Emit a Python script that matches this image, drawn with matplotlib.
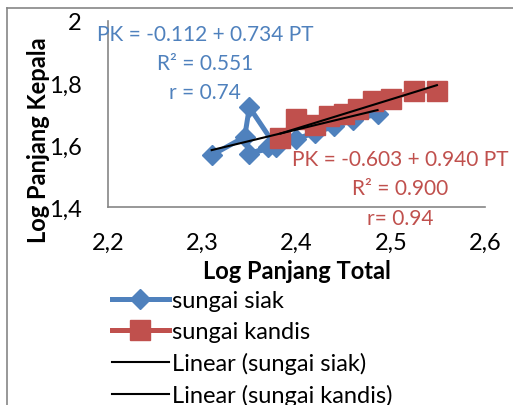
import matplotlib
matplotlib.use("Agg")
import matplotlib.pyplot as plt
from matplotlib.lines import Line2D
import numpy as np

plt.rcParams['font.family'] = ['Lato', 'DejaVu Sans']

# Log total length (PT) and log head length (PK) per river
siak_pt = [2.31, 2.345, 2.35, 2.378, 2.35, 2.37, 2.40, 2.42, 2.44, 2.46, 2.486]
siak_pk = [1.567, 1.626, 1.722, 1.595, 1.572, 1.592, 1.62, 1.64, 1.66, 1.68, 1.70]
kandis_pt = [2.383, 2.40, 2.42, 2.435, 2.45, 2.465, 2.481, 2.50, 2.525, 2.549]
kandis_pk = [1.622, 1.685, 1.665, 1.695, 1.70, 1.716, 1.742, 1.75, 1.774, 1.775]

# Fitted regressions: PK = a + b * PT
siak_fit = (-0.112, 0.734)
kandis_fit = (-0.603, 0.940)
siak_stats = ["PK = -0.112 + 0.734 PT", "R\u00b2 = 0.551", "r = 0.74"]
kandis_stats = ["PK = -0.603 + 0.940 PT", "R\u00b2 = 0.900", "r= 0.94"]

x_ticks = [2.2, 2.3, 2.4, 2.5, 2.6]
x_labels = ["2,2", "2,3", "2,4", "2,5", "2,6"]
y_ticks = [1.4, 1.6, 1.8, 2.0]
y_labels = ["1,4", "1,6", "1,8", "2"]

BLUE = "#4F81BD"
RED = "#C0504D"
W, H = 513, 406

fig = plt.figure(figsize=(W / 100, H / 100), dpi=100)
ax = fig.add_axes([108 / W, 1 - 208 / H, (485 - 108) / W, (208 - 22) / H])

ax.plot(siak_pt, siak_pk, color=BLUE, lw=3.6, marker="D", ms=10,
        mfc=BLUE, mec=BLUE, label="sungai siak", zorder=3)
ax.plot(kandis_pt, kandis_pk, color=RED, lw=3.6, marker="s", ms=14,
        mfc=RED, mec=RED, label="sungai kandis", zorder=4)

for pts, (a, b), lab in [(siak_pt, siak_fit, "Linear (sungai siak)"),
                         (kandis_pt, kandis_fit, "Linear (sungai kandis)")]:
    xs = np.array([min(pts), max(pts)])
    ax.plot(xs, a + b * xs, color="black", lw=1.5, label=lab, zorder=5)

ax.set_xlim(2.2, 2.6)
ax.set_ylim(1.4, 2.0)
ax.set_xticks(x_ticks)
ax.set_xticklabels(x_labels)
ax.set_yticks(y_ticks)
ax.set_yticklabels(y_labels)
ax.tick_params(length=0, labelsize=17)
ax.tick_params(axis="x", pad=18)
ax.tick_params(axis="y", pad=19)
for s in ("top", "right"):
    ax.spines[s].set_visible(False)
for s in ("left", "bottom"):
    ax.spines[s].set_color("#868686")
    ax.spines[s].set_linewidth(1.2)

fs = 15
for i, t in enumerate(siak_stats):
    fig.text(205 / W, 1 - (35 + 29 * i) / H, t, color=BLUE, fontsize=fs,
             ha="center", va="center")
for i, t in enumerate(kandis_stats):
    fig.text(400 / W, 1 - (160 + 29.5 * i) / H, t, color=RED, fontsize=fs,
             ha="center", va="center")

fig.text(297 / W, 1 - 272 / H, "Log Panjang Total", fontsize=17,
         fontweight="bold", ha="center", va="center")
fig.text(39 / W, 1 - 140 / H, "Log Panjang Kepala", fontsize=17,
         fontweight="bold", ha="center", va="center", rotation=90)

handles, labels = ax.get_legend_handles_labels()
fig.legend(handles, labels, loc="upper left", bbox_to_anchor=(112 / W, 1 - 291 / H),
           frameon=False, fontsize=17, handlelength=2.4, handletextpad=0.12,
           labelspacing=0.42, borderpad=0, borderaxespad=0)

# outer chart frame
fig.add_artist(Line2D([7 / W, 7 / W], [0, 1 - 9 / H], color="#868686", lw=1.2,
                      transform=fig.transFigure))
fig.add_artist(Line2D([7 / W, 1], [1 - 9 / H, 1 - 9 / H], color="#868686", lw=1.2,
                      transform=fig.transFigure))

fig.savefig("out.png", dpi=100)
